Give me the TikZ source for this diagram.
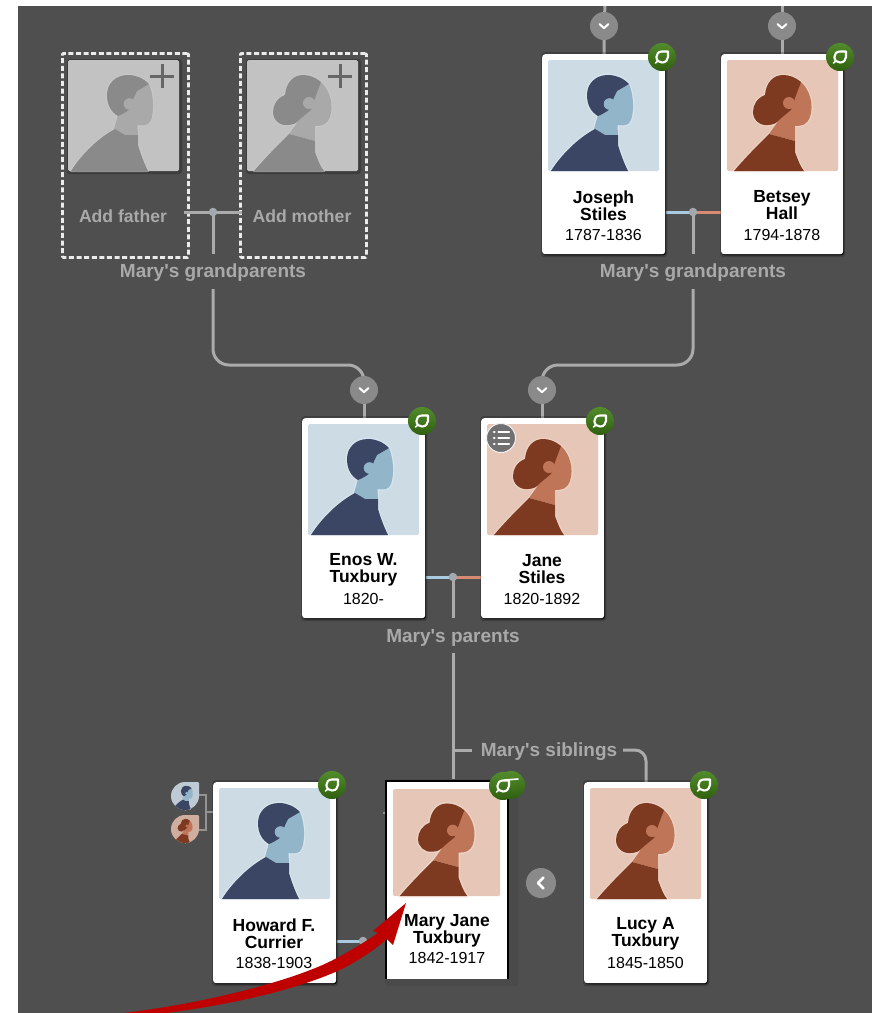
\documentclass[tikz,border=0pt]{standalone}
\usepackage{fontspec}
\setmainfont{Liberation Sans}
\newfontfamily\labelfont{Liberation Sans}
\usetikzlibrary{shadows}
\definecolor{panel}{HTML}{4F4F4F}
\definecolor{linegrey}{HTML}{ABABAB}
\definecolor{labelgrey}{HTML}{A9A9A9}
\definecolor{mbg}{HTML}{CDDBE5}\definecolor{mskin}{HTML}{93B5C9}\definecolor{mdark}{HTML}{3B4564}\definecolor{mhalo}{HTML}{E4EEF4}
\definecolor{fbg}{HTML}{E6C6B7}\definecolor{fskin}{HTML}{BF7558}\definecolor{fdark}{HTML}{7E3A20}\definecolor{fhalo}{HTML}{F2DDD2}
\definecolor{gbg}{HTML}{C2C2C2}\definecolor{gskin}{HTML}{A9A9A9}\definecolor{gdark}{HTML}{8A8A8A}\definecolor{ghalo}{HTML}{CECECE}
\definecolor{mmbg}{HTML}{BFCBD4}\definecolor{ffbg}{HTML}{CFAE9F}
\definecolor{leafgreen}{HTML}{3F7F14}
\definecolor{spblue}{HTML}{A9CBE0}\definecolor{spred}{HTML}{D98A72}
\definecolor{dotgrey}{HTML}{A3A9AE}\definecolor{chevgrey}{HTML}{8A8A8A}
\tikzset{
  x=1pt,y=-1pt,
  card/.style={draw=none,fill=white,rounded corners=3pt,inner sep=0pt,minimum width=123pt,minimum height=200pt,anchor=north west,
    general shadow={shadow xshift=0.5pt,shadow yshift=-.5pt,shadow scale=1.025,opacity=.2,fill=black},
    general shadow={shadow xshift=0.8pt,shadow yshift=-1.2pt,opacity=.8,fill=black}},
  dashbox/.style={draw=white!92!black,line width=2.8pt,dash pattern=on 5pt off 2.6pt,rounded corners=1pt,inner sep=0pt,minimum width=126pt,minimum height=204pt,anchor=north west},
  conn/.style={draw=linegrey,line width=3pt},
  spm/.style={draw=spblue,line width=3pt},
  spf/.style={draw=spred,line width=3pt},
  bracket/.style={draw=gray!85,line width=2pt},
  cdot/.style={circle,fill=dotgrey,inner sep=0pt,minimum size=8.5pt},
  chev/.style={circle,fill=chevgrey,inner sep=0pt,minimum size=28pt},
  badge/.style={circle,top color=leafgreen!90!white,bottom color=leafgreen!75!black,inner sep=0pt,minimum size=28pt},
  pname/.style={font=\bfseries\fontsize{17.5}{17}\selectfont,align=center,text=black,inner sep=0pt},
  pyear/.style={font=\fontsize{16}{17}\selectfont,text=black,inner sep=0pt},
  grouplab/.style={font=\labelfont\bfseries\fontsize{19}{20}\selectfont,text=labelgrey,inner sep=0pt},
  addlab/.style={font=\bfseries\fontsize{17.6}{20}\selectfont,text=labelgrey,inner sep=0pt},
  white stroke/.style={draw=white,line width=2.2pt,line cap=round,line join=round},
}
\newcommand\mskinpath{(50,55) -- (46,69) -- (57,76) -- (70,76) -- (69.5,65) .. controls (75,66) and (81,66) .. (83,60) .. controls (86,52) and (86,35) .. (81,24) -- (60,30) -- cycle}
\newcommand\mbodypath{(3,111) .. controls (13,95) and (30,78) .. (47,69) -- (57,75) -- (70,75) -- (70,85) .. controls (73,95) and (76,103) .. (80,111) -- cycle}
\newcommand\mhairpath{(81,24) .. controls (75,18) and (68,15) .. (60,15) .. controls (47,15) and (39,24) .. (39,35) .. controls (39,45) and (43,52) .. (50,56) .. controls (55,54) and (58,52) .. (62,49) -- (66,37) -- (69,31) -- cycle}
\newcommand\fskinpath{(52,60) -- (42,74) -- (68,81) -- (68,66) .. controls (75,66) and (80,65) .. (83,57) .. controls (87,45) and (83,30) .. (74,22) -- (55,35) -- cycle}
\newcommand\fbodypath{(7,111) .. controls (18,98) and (30,86) .. (42,74) -- (68,81) -- (68,92) .. controls (71,100) and (73,106) .. (77,111) -- cycle}
\newcommand\fhairpath{(74,22) .. controls (68,17) and (62,15) .. (56,15) .. controls (46,15) and (39,23) .. (38,35) .. controls (30,38) and (26,45) .. (26,52) .. controls (26,60) and (33,66) .. (41,65) .. controls (46,65) and (50,63) .. (53,59) -- (64,50) -- (68,38) -- cycle}
% portrait: x y scale bg skin dark halo halowidth
\newcommand\malefig[8]{\begin{scope}[shift={(#1,#2)},scale=#3]
  \fill[#4,rounded corners=1.5pt] (0,0) rectangle (111,111);
  \draw[#7,line width=#8,opacity=.55,line join=round] \mskinpath \mbodypath \mhairpath;
  \fill[#5] \mskinpath;
  \fill[#6] \mbodypath;
  \fill[#6] \mhairpath;
  \fill[#5] (61.5,44) circle[radius=5.8];
\end{scope}}
\newcommand\femalefig[8]{\begin{scope}[shift={(#1,#2)},scale=#3]
  \fill[#4,rounded corners=1.5pt] (0,0) rectangle (111,111);
  \draw[#7,line width=#8,opacity=.55,line join=round] \fskinpath \fbodypath \fhairpath;
  \fill[#5] \fskinpath;
  \fill[#6] \fbodypath;
  \fill[#6] \fhairpath;
  \fill[#5] (62,43) circle[radius=6];
\end{scope}}
\newcommand\leafglyph[1]{\begin{scope}[shift={(#1)}]
  \draw[white stroke,line width=2.1pt] (6,-5.5) -- (0,-5.5) .. controls (-3.6,-5.5) and (-5.6,-3) .. (-5.6,0) .. controls (-5.6,3.5) and (-3,5.5) .. (0,5.5) .. controls (3.6,5.5) and (6,3) .. (6,0) -- cycle;
  \draw[white stroke,line width=1.6pt] (-6.5,6) -- (-4,3.8);
\end{scope}}
\newcommand\chevdown[1]{\begin{scope}[shift={(#1)}]
  \draw[white stroke,line width=2pt] (-4.5,-2) -- (0,2.2) -- (4.5,-2);
\end{scope}}
\newcommand\teardrop{(-14,0) .. controls (-14,-7.7) and (-7.7,-14) .. (0,-14) -- (14,-14) -- (14,0) .. controls (14,7.7) and (7.7,14) .. (0,14) .. controls (-7.7,14) and (-14,7.7) .. (-14,0) -- cycle}
\begin{document}
\begin{tikzpicture}
\useasboundingbox (0,0) rectangle (876,1013);
\fill[white] (0,0) rectangle (876,1013);
\fill[panel] (18,6) rectangle (872,1013);

% free ends and bends
\coordinate (topJ) at (605,6);
\coordinate (topB) at (782,6);
\coordinate (gpLend) at (213,289);
\coordinate (gpRend) at (693,289);
\coordinate (bendL) at (364,365);
\coordinate (bendR) at (542,365);
\coordinate (parEnd) at (453,653);
\coordinate (sibA) at (472,750);
\coordinate (sibB) at (623,750);
\coordinate (branch) at (453,750);
\coordinate (brk) at (206,812);
\coordinate (chJ) at (604,26);
\coordinate (chB) at (782,26);
\coordinate (chE) at (364,390);
\coordinate (chS) at (542,390);
\coordinate (dG) at (213,212);
\coordinate (dR) at (693,212);
\coordinate (dP) at (453,577);
\coordinate (dH) at (363,941);

\node[dashbox] (father) at (61,52) {};
\node[dashbox] (mother) at (239,52) {};

% connectors
\draw[conn] (topJ) -- (chJ) -- (604,54);
\draw[conn] (topB) -- (782,54);
\draw[conn] (184,212) -- (242,212);
\draw[conn] (dG) -- (213,254);
\draw[conn] (dR) -- (693,254);
\draw[spm] (665,212) -- (dR);
\draw[spf] (dR) -- (721,212);
\draw[conn,rounded corners=16pt] (gpLend) |- (bendL) -- (chE);
\draw[conn,rounded corners=16pt] (gpRend) |- (bendR) -- (chS);
\draw[conn] (chE) -- (364,418);
\draw[conn] (chS) -- (542,418);
\draw[spm] (425,577) -- (dP);
\draw[spf] (dP) -- (481,577);
\draw[conn] (dP) -- (453,618);
\draw[conn] (parEnd) -- (453,781);
\draw[conn] (branch) -- (sibA);
\draw[conn,rounded corners=11pt] (sibB) -| (646,782);
\draw[spm] (336,941) -- (dH);
\draw[spf] (dH) -- (376,941);
\draw[bracket] (198,795) -| (brk) |- (198,830);
\draw[bracket] (brk) -- (213,812);
\draw[bracket] (383,813) -- (388,813);

% cards
\node[card] (joseph) at (542,54) {};
\node[card,minimum width=122pt] (betsey) at (721,54) {};
\node[card] (enos) at (302,418) {};
\node[card] (jane) at (481,418) {};
\node[card,minimum height=201pt] (howard) at (213,782) {};
\node[card,minimum height=201pt] (lucy) at (584,782) {};
\node[fill=panel!94!black,minimum width=133pt,minimum height=207pt,inner sep=0pt,anchor=north west,rounded corners=3pt] (maryghost) at (385,779) {};
\node[fill=black,minimum width=124.5pt,minimum height=199pt,inner sep=0pt,anchor=north west] (maryedge) at (384.5,780) {};
\node[fill=white,minimum width=120pt,minimum height=197pt,inner sep=0pt,anchor=north west] (mary) at (387,782) {};

% shadows behind the empty portraits
\fill[black,opacity=.22,rounded corners=3pt] (67,59) rectangle (182,174);
\fill[black,opacity=.22,rounded corners=3pt] (246,59) rectangle (361,174);

% portraits
\malefig{68}{60}{1}{gbg}{gskin}{gdark}{ghalo}{2pt}
\femalefig{247}{60}{1}{gbg}{gskin}{gdark}{ghalo}{2pt}
\malefig{548}{60}{1}{mbg}{mskin}{mdark}{mhalo}{2.4pt}
\femalefig{727}{60}{1}{fbg}{fskin}{fdark}{fhalo}{2.4pt}
\malefig{308}{424}{1}{mbg}{mskin}{mdark}{mhalo}{2.4pt}
\femalefig{487}{424}{1}{fbg}{fskin}{fdark}{fhalo}{2.4pt}
\malefig{219}{788}{1}{mbg}{mskin}{mdark}{mhalo}{2.4pt}
\femalefig{393}{789}{.964}{fbg}{fskin}{fdark}{fhalo}{3pt}
\femalefig{590}{788}{1}{fbg}{fskin}{fdark}{fhalo}{2.4pt}

% plus signs
\draw[draw=gray!80!black,line width=3pt] (150,76) -- (174,76) (162,64) -- (162,88);
\draw[draw=gray!80!black,line width=3pt] (328,76) -- (352,76) (340,64) -- (340,88);

% mini parent icons
\begin{scope}[shift={(185,796)}]
  \begin{scope}\clip \teardrop; \malefig{-14}{-14}{.255}{mmbg}{mskin}{mdark}{mmbg}{0pt}\end{scope}
\end{scope}
\begin{scope}[shift={(185,829)}]
  \begin{scope}\clip \teardrop; \femalefig{-14}{-14}{.255}{ffbg}{fskin}{fdark}{ffbg}{0pt}\end{scope}
\end{scope}

% chevrons
\node[chev] (chJtop) at (chJ) {}; \chevdown{chJtop.center}
\node[chev] (chBtop) at (chB) {}; \chevdown{chBtop.center}
\node[chev] (chEtop) at (chE) {}; \chevdown{chEtop.center}
\node[chev] (chStop) at (chS) {}; \chevdown{chStop.center}
\node[chev,minimum size=30pt] (chL) at (541,883) {};
\draw[white stroke,line width=2.6pt] (543.5,877.5) -- (538,883) -- (543.5,888.5);

% dots
\node[cdot] (dotG) at (dG) {};
\node[cdot] (dotR) at (dR) {};
\node[cdot] (dotP) at (dP) {};
\node[cdot] (dotH) at (dH) {};

% badges
\foreach \n/\p in {bJ/{662,57},bB/{840,57},bE/{422,421},bS/{600,421},bH/{332,785},bL/{704,785}}{
  \node[badge] (\n) at (\p) {};
  \leafglyph{\n.center}
}
\node[badge] (bMback) at (511,785) {};
\node[badge] (bM) at (503,786) {};
\leafglyph{bM.center}
\draw[white stroke,line width=1.6pt] (505,780) -- (518,779);

% list button
\node[circle,fill=gray!88!black,draw=white!90!gray,line width=1pt,inner sep=0pt,minimum size=29pt] (listbtn) at (501,438) {};
\foreach \yy in {-6,0,6}{
  \draw[white,line width=2.3pt,line cap=round] (-7+501,\yy+438) -- (-6.5+501,\yy+438);
  \draw[white,line width=2.3pt,line cap=round] (-2.5+501,\yy+438) -- (8+501,\yy+438);
}

% text
\node[addlab] (tAF) at (123,216) {Add father};
\node[addlab] (tAM) at (302,216) {Add mother};
\node[grouplab] (tGL) at (213,273) {Mary's grandparents};
\node[grouplab] (tGR) at (693,273) {Mary's grandparents};
\node[grouplab] (tP) at (453,638) {Mary's parents};
\node[grouplab] (tS) at (549,752) {Mary's siblings};

\node[pname] (nJ) at (603.5,205.5) {Joseph\\Stiles};
\node[pyear] (yJ) at (603.5,235) {1787-1836};
\node[pname] (nB) at (782,205.5) {Betsey\\Hall};
\node[pyear] (yB) at (782,235) {1794-1878};
\node[pname] (nE) at (363.5,569.5) {Enos W.\\Tuxbury};
\node[pyear] (yE) at (363.5,599) {1820-};
\node[pname] (nS) at (542,569.5) {Jane\\Stiles};
\node[pyear] (yS) at (542,599) {1820-1892};
\node[pname] (nH) at (274,933.5) {Howard F.\\Currier};
\node[pyear] (yH) at (274,963) {1838-1903};
\node[pname] (nM) at (447,930.5) {Mary Jane\\Tuxbury};
\node[pyear] (yM) at (447,958) {1842-1917};
\node[pname] (nL) at (645.5,933.5) {Lucy A\\Tuxbury};
\node[pyear] (yL) at (645.5,963) {1845-1850};

% red arrow
\fill[red!75!black] (123,1013) .. controls (200,1004) and (290,982) .. (333,960)
  .. controls (350,951) and (365,942) .. (378,933) -- (373,931) -- (406,903) -- (393,945) -- (387,939)
  .. controls (372,952) and (352,965) .. (333,973) .. controls (285,993) and (225,1005) .. (167,1013) -- cycle;
\end{tikzpicture}
\end{document}
